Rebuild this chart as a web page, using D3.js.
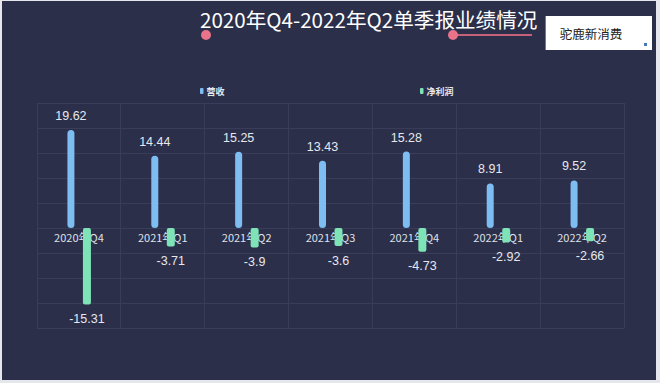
<!DOCTYPE html>
<html><head><meta charset="utf-8">
<script src="https://cdn.jsdelivr.net/npm/d3@7"></script>
<style>html,body{margin:0;padding:0;background:#e6e7ec;}svg{display:block;}</style>
</head><body>
<svg id="c" width="660" height="383"></svg>
<script>
const categories = ["2020年Q4","2021年Q1","2021年Q2","2021年Q3","2021年Q4","2022年Q1","2022年Q2"];
const revenue = [19.62,14.44,15.25,13.43,15.28,8.91,9.52];
const netProfit = [-15.31,-3.71,-3.9,-3.6,-4.73,-2.92,-2.66];
const seriesNames = ["营收","净利润"];
const yTicks = [-20,-15,-10,-5,0,5,10,15,20,25];
const titleText = "2020年Q4-2022年Q2单季报业绩情况";
const brandText = "驼鹿新消费";

const svg = d3.select("#c");
const bg = "#2b2f4a", grid = "#393d5a";
const blue = "#7dbdf2", green = "#7fe3b8";
const numFont = "'Liberation Sans', Arial, 'Noto Sans CJK SC', sans-serif";
const cjkFont = "'Noto Sans CJK SC', 'Liberation Sans', sans-serif";

svg.append("rect").attr("x",2).attr("y",1).attr("width",654).attr("height",379).attr("fill",bg);

const x = d3.scaleBand().domain(categories).range([37,624]).padding(0);
const y = d3.scaleLinear().domain([-20,25]).range([328,103]);

// grid
const g = svg.append("g");
g.selectAll("line.h").data(yTicks).join("line").attr("class","h")
  .attr("x1",37).attr("x2",624).attr("y1",d=>y(d)).attr("y2",d=>y(d))
  .attr("stroke",grid).attr("stroke-width",1).attr("shape-rendering","crispEdges");
const vx = categories.map(c=>x(c)).concat([x.range()[1]]);
g.selectAll("line.v").data(vx).join("line").attr("class","v")
  .attr("x1",d=>d).attr("x2",d=>d).attr("y1",y(25)).attr("y2",y(-20))
  .attr("stroke",grid).attr("stroke-width",1).attr("shape-rendering","crispEdges");

// category labels
svg.append("g").selectAll("text").data(categories).join("text")
  .attr("x",d=>x(d)+x.bandwidth()/2).attr("y",y(0)+14)
  .attr("text-anchor","middle").attr("font-family",cjkFont).attr("font-size",11)
  .attr("fill","#dfe2ea").text(d=>d);

const off = 8;
const cx = (c)=>x(c)+x.bandwidth()/2;

// revenue bars
svg.append("g").selectAll("rect").data(revenue).join("rect")
  .attr("x",(d,i)=>cx(categories[i])-off-3.5).attr("width",7)
  .attr("y",d=>y(d)).attr("height",d=>y(0)-y(d))
  .attr("rx",3.5).attr("fill",blue);
// profit bars
svg.append("g").selectAll("rect").data(netProfit).join("rect")
  .attr("x",(d,i)=>cx(categories[i])+off-4).attr("width",8)
  .attr("y",y(0)).attr("height",d=>y(d)-y(0))
  .attr("rx",2).attr("fill",green);

// value labels
svg.append("g").selectAll("text").data(revenue).join("text")
  .attr("x",(d,i)=>cx(categories[i])-off).attr("y",d=>y(d)-10)
  .attr("text-anchor","middle").attr("font-family",numFont).attr("font-size",12.5)
  .attr("fill","#e6e8ee").text(d=>d);
svg.append("g").selectAll("text").data(netProfit).join("text")
  .attr("x",(d,i)=>cx(categories[i])+off).attr("y",d=>y(d)+18.5)
  .attr("text-anchor","middle").attr("font-family",numFont).attr("font-size",12.5)
  .attr("fill","#e6e8ee").text(d=>d);

// legend
const legX = [200,420], legC = [blue, green];
const leg = svg.append("g").selectAll("g").data(seriesNames).join("g")
  .attr("transform",(d,i)=>`translate(${legX[i]},88)`);
leg.append("rect").attr("width",3.5).attr("height",6).attr("rx",1).attr("fill",(d,i)=>legC[i]);
leg.append("text").attr("x",6.5).attr("y",6.5).attr("font-family",cjkFont).attr("font-size",9)
  .attr("font-weight","bold").attr("fill","#e6e8ee").text(d=>d);

// title decorations
svg.append("line").attr("x1",453).attr("x2",532).attr("y1",35).attr("y2",35)
  .attr("stroke","#c8607a").attr("stroke-width",2);
svg.append("circle").attr("cx",206).attr("cy",35).attr("r",5).attr("fill","#e8738a");
svg.append("circle").attr("cx",453).attr("cy",35).attr("r",5).attr("fill","#e8738a");
svg.append("text").attr("x",200).attr("y",28).attr("font-family",cjkFont).attr("font-size",20.6)
  .attr("fill","#ffffff").text(titleText);

// brand box
svg.append("rect").attr("x",545).attr("y",16).attr("width",107).attr("height",34).attr("fill","#ffffff");
svg.append("line").attr("x1",545.5).attr("x2",545.5).attr("y1",16).attr("y2",50).attr("stroke","#5d7fb0").attr("stroke-width",1);
svg.append("rect").attr("x",644).attr("y",43).attr("width",3).attr("height",3).attr("fill","#4a78c0");
svg.append("text").attr("x",591).attr("y",39).attr("text-anchor","middle").attr("font-family",cjkFont)
  .attr("font-size",12.5).attr("fill","#222").text(brandText);
</script>
</body></html>
